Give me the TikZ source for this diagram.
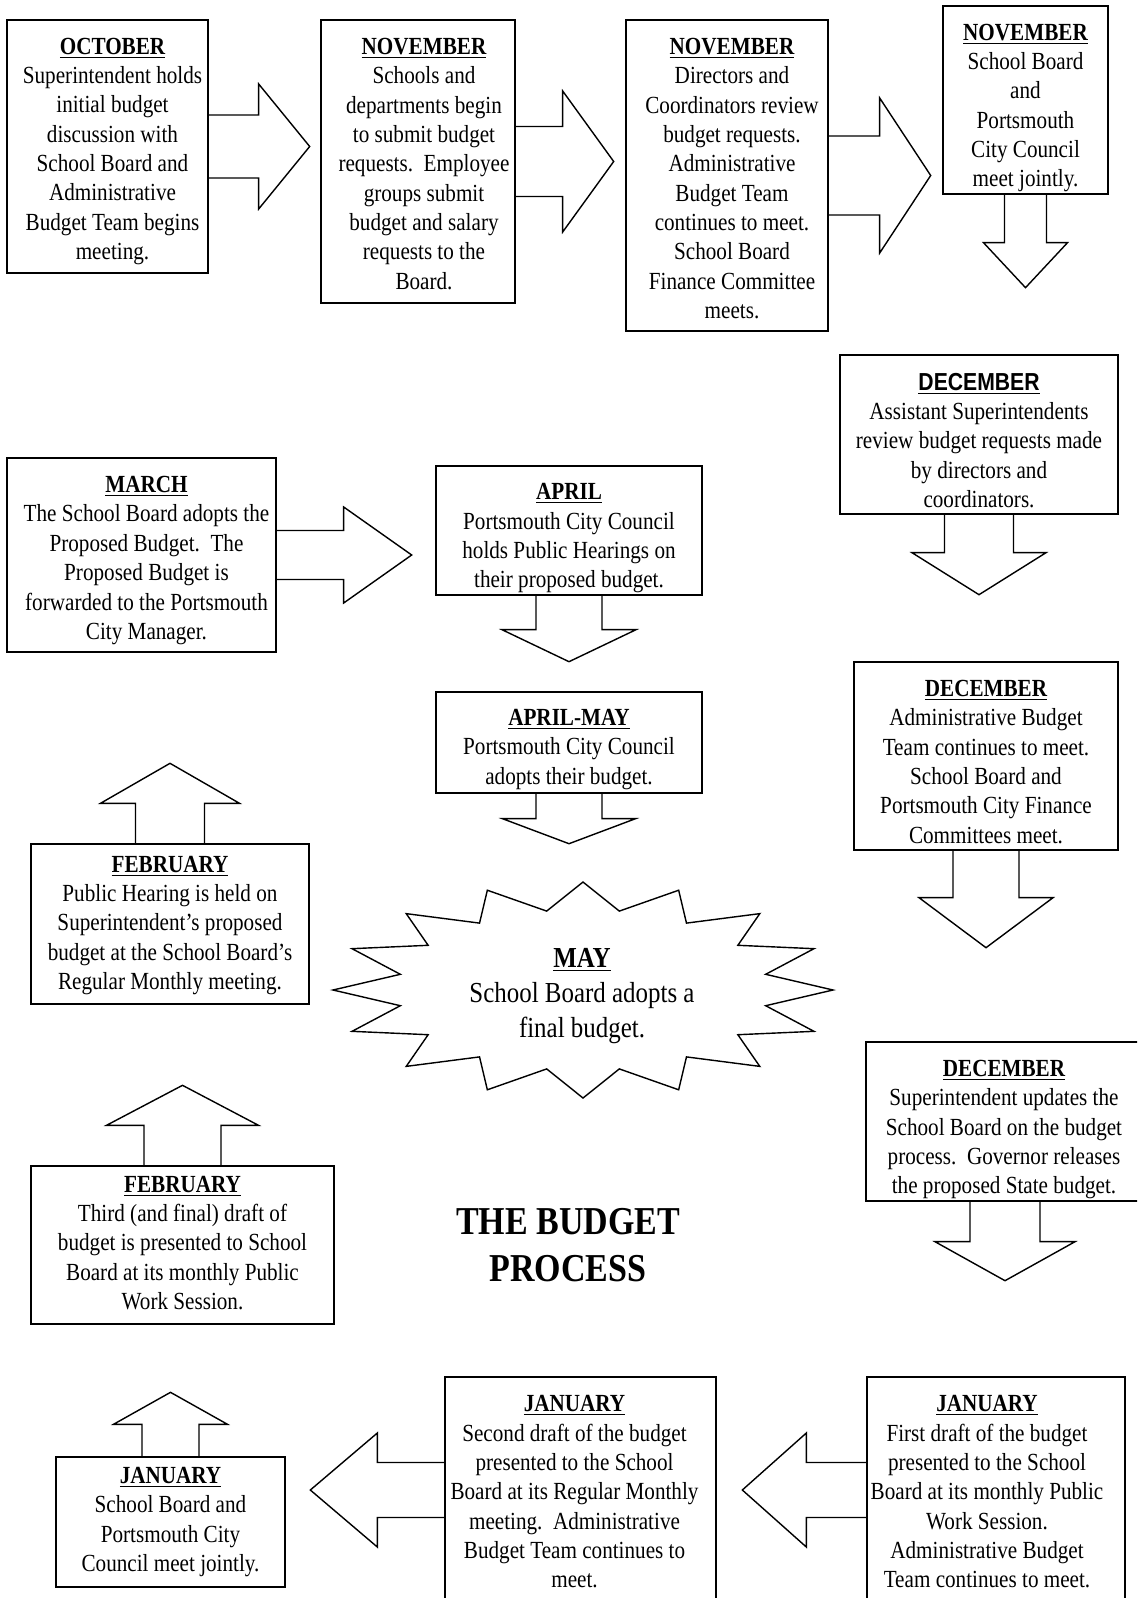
\documentclass[tikz,border=0pt]{standalone}
\usepackage{fontspec}
\setmainfont{Liberation Serif}[FakeStretch=0.86]
\newfontfamily\headsans{Liberation Sans}[FakeStretch=0.86]
\usetikzlibrary{calc}
\newcommand\mon[1]{\textbf{\underline{#1}}}
\tikzset{
	stage/.style={draw, line width=0.8pt, inner sep=0pt},
	words/.style={inner sep=0pt, align=center, font=\fontsize{14}{16.7}\selectfont},
	blk/.style={line width=0.8pt, line join=miter}
}
\begin{document}
\begin{tikzpicture}[x=0.02cm, y=-0.02cm]
	\useasboundingbox (0,0) rectangle (1137,1598);
	\clip (0,0) rectangle (1137,1598);
	\node[stage, minimum width=4.02cm, minimum height=5.06cm] (oct) at (107.5,146.5) {};
	\node[stage, minimum width=3.88cm, minimum height=5.66cm] (nov) at (418,161.5) {};
	\node[stage, minimum width=4.04cm, minimum height=6.22cm] (dir) at (727,175.5) {};
	\node[stage, minimum width=3.30cm, minimum height=3.76cm] (nsb) at (1025.5,100) {};
	\node[stage, minimum width=5.56cm, minimum height=3.18cm] (dec1) at (979,434.5) {};
	\node[stage, minimum width=5.28cm, minimum height=3.76cm] (dec2) at (986,756) {};
	\node[stage, minimum width=5.56cm, minimum height=3.18cm] (dec3) at (1005,1121.5) {};
	\node[stage, minimum width=5.38cm, minimum height=3.88cm] (mar) at (141.5,555) {};
	\node[stage, minimum width=5.32cm, minimum height=2.58cm] (apr) at (569,530.5) {};
	\node[stage, minimum width=5.32cm, minimum height=2.02cm] (aprmay) at (569,742.5) {};
	\node[stage, minimum width=5.56cm, minimum height=3.20cm] (feb1) at (170,924) {};
	\node[stage, minimum width=6.06cm, minimum height=3.16cm] (feb2) at (182.5,1245) {};
	\node[stage, minimum width=4.58cm, minimum height=2.60cm] (janjt) at (170.5,1522) {};
	\node[stage, minimum width=5.42cm, minimum height=4.52cm] (jansec) at (580.5,1490) {};
	\node[stage, minimum width=5.16cm, minimum height=4.52cm] (janfir) at (996,1490) {};
	\node[words] (octtxt) at ($(oct)+(5,5)$) {\mon{OCTOBER}\\Superintendent holds\\initial budget\\discussion with\\School Board and\\Administrative\\Budget Team begins\\meeting.};
	\node[words] (novtxt) at ($(nov)+(6,2.5)$) {\mon{NOVEMBER}\\Schools and\\departments begin\\to submit budget\\requests.\ \ Employee\\groups submit\\budget and salary\\requests to the\\Board.};
	\node[words] (dirtxt) at ($(dir)+(5,3)$) {\mon{NOVEMBER}\\Directors and\\Coordinators review\\budget requests.\\Administrative\\Budget Team\\continues to meet.\\School Board\\Finance Committee\\meets.};
	\node[words] (nsbtxt) at ($(nsb)+(0,8)$) {\mon{NOVEMBER}\\School Board\\and\\Portsmouth\\City Council\\meet jointly.};
	\node[words] (dec1txt) at ($(dec1)+(0,6)$) {{\headsans\mon{DECEMBER}}\\Assistant Superintendents\\review budget requests made\\by directors and\\coordinators.};
	\node[words] (dec2txt) at ($(dec2)+(0,6)$) {\mon{DECEMBER}\\Administrative Budget\\Team continues to meet.\\School Board and\\Portsmouth City Finance\\Committees meet.};
	\node[words] (dec3txt) at ($(dec3)+(-1,8)$) {\mon{DECEMBER}\\Superintendent updates the\\School Board on the budget\\process.\ \ Governor releases\\the proposed State budget.};
	\node[words] (martxt) at ($(mar)+(5,5.5)$) {\mon{MARCH}\\The School Board adopts the\\Proposed Budget.\ \ The\\Proposed Budget is\\forwarded to the Portsmouth\\City Manager.};
	\node[words] (aprtxt) at ($(apr)+(0,8)$) {\mon{APRIL}\\Portsmouth City Council\\holds Public Hearings on\\their proposed budget.};
	\node[words] (aprmaytxt) at ($(aprmay)+(0,7)$) {\mon{APRIL-MAY}\\Portsmouth City Council\\adopts their budget.};
	\node[words] (feb1txt) at ($(feb1)+(0,1.5)$) {\mon{FEBRUARY}\\Public Hearing is held on\\Superintendent’s proposed\\budget at the School Board’s\\Regular Monthly meeting.};
	\node[words] (feb2txt) at ($(feb2)+(0,-2)$) {\mon{FEBRUARY}\\Third (and final) draft of\\budget is presented to School\\Board at its monthly Public\\Work Session.};
	\node[words] (janjttxt) at (janjt) {\mon{JANUARY}\\School Board and\\Portsmouth City\\Council meet jointly.};
	\node[words] (jansectxt) at ($(jansec)+(-6,2)$) {\mon{JANUARY}\\Second draft of the budget\\presented to the School\\Board at its Regular Monthly\\meeting.\ \ Administrative\\Budget Team continues to\\meet.};
	\node[words] (janfirtxt) at ($(janfir)+(-9,2)$) {\mon{JANUARY}\\First draft of the budget\\presented to the School\\Board at its monthly Public\\Work Session.\\Administrative Budget\\Team continues to meet.};
	\foreach \nm/\side/\sw/\hw/\sl/\hl in {oct/east/31.5/62.5/50/51, nov/east/35/70.5/47/51, dir/east/39.5/77.5/51/51, mar/east/24.5/48/67/68, jansec/west/27.5/57/-67/-67, janfir/west/27.5/57/-60/-64}{
		\draw[blk] ($(\nm.\side)+(0,-\sw)$) -- ++(\sl,0) -- ++(0,\sw-\hw) -- ++(\hl,\hw) -- ++({-(\hl)},\hw) -- ++(0,\sw-\hw) -- ++({-(\sl)},0);
	}
	\foreach \nm/\side/\sw/\hw/\sl/\hl in {nsb/south/21/42/48/45, dec1/south/34.5/67/38/42, dec2/south/33/67/47/50, dec3/south/35/70/40/39, apr/south/33/67/34/32, aprmay/south/33/66.5/25/25, feb1/north/34.5/69.5/-40/-40, feb2/north/38.5/76/-40/-40, janjt/north/28.5/57/-32/-32}{
		\draw[blk] ($(\nm.\side)+(-\sw,0)$) -- ++(0,\sl) -- ++(\sw-\hw,0) -- ++(\hw,\hl) -- ++(\hw,{-(\hl)}) -- ++(\sw-\hw,0) -- ++(0,{-(\sl)});
	}
	\coordinate (burst) at (583,990);
	\draw[blk] plot[samples=33, domain=0:32, variable=\k] ({583+250*(1-0.255*mod(\k,2))*cos(\k*11.25)}, {990+108*(1-0.255*mod(\k,2))*sin(\k*11.25)}) -- cycle;
	\node[align=center, font=\fontsize{16.5}{19.7}\selectfont] (may) at ($(burst)+(-1,6)$) {\mon{MAY}\\School Board adopts a\\final budget.};
	\node[align=center, font=\fontsize{22.5}{26.8}\selectfont\bfseries] (title) at (568,1245) {THE BUDGET\\PROCESS};
\end{tikzpicture}
\end{document}
